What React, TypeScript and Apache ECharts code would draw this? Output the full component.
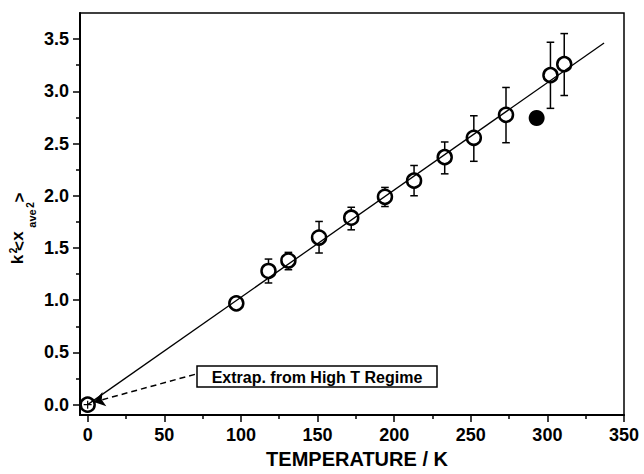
import React, { useEffect, useRef } from "react";
import * as echarts from "echarts";

// ---- data ----
const temps = [0, 97, 118, 131, 151, 172, 194, 213, 233, 252, 273, 302, 311];
const values = [0, 0.97, 1.28, 1.38, 1.6, 1.79, 1.99, 2.145, 2.37, 2.555, 2.775, 3.155, 3.26];
const errTemps = [118, 131, 151, 172, 194, 213, 233, 252, 273, 302, 311];
const errLow = [1.165, 1.292, 1.452, 1.674, 1.897, 2.0, 2.21, 2.33, 2.508, 2.837, 2.96];
const errHigh = [1.394, 1.458, 1.754, 1.89, 2.08, 2.29, 2.515, 2.766, 3.037, 3.47, 3.553];
const filledPoint = [293, 2.745];
const fitTemps = [0, 337];
const fitValues = [0, 3.463];
const originPoint = [0, 0];
const arrowFrom = [70, 0.29];
const arrowTo = [4, 0.025];
const xMajorTicks = [0, 50, 100, 150, 200, 250, 300, 350];
const xMinorTicks = [25, 75, 125, 175, 225, 275, 325];
const yMajorTicks = [0, 0.5, 1.0, 1.5, 2.0, 2.5, 3.0, 3.5];
const yMinorTicks = [0.25, 0.75, 1.25, 1.75, 2.25, 2.75, 3.25];
const annotationText = "Extrap. from High T Regime";

const FONT = '"Liberation Sans", Arial, sans-serif';

export default function App() {
  const ref = useRef<HTMLDivElement>(null);
  useEffect(() => {
    if (!ref.current) return;
    const chart = echarts.init(ref.current, null, { renderer: "svg" });
    const axisLine = { show: true, lineStyle: { color: "#000", width: 2 } };
    const labelStyle = { color: "#000", fontFamily: FONT, fontWeight: "bold" as const, fontSize: 18 };
    const CX = 19;
    const CY = 229;
    const yLabelPart = (text: string, sx: number, sy: number, size: number) => ({
      type: "text",
      x: CY - sy,
      y: sx - CX,
      style: {
        text,
        fill: "#000",
        fontFamily: FONT,
        fontWeight: "bold",
        fontSize: size,
        align: "center",
        verticalAlign: "middle",
      },
    });
    const minorAxisLabel = (vals: number[]) => ({
      show: true,
      customValues: vals,
      formatter: () => "",
    });
    chart.setOption({
      animation: false,
      backgroundColor: "#fff",
      grid: {
        left: 80,
        right: 20,
        top: 13,
        bottom: 58,
        show: true,
        borderColor: "#000",
        borderWidth: 1.5,
        containLabel: false,
      },
      xAxis: [
        {
          type: "value",
          min: -5,
          max: 350,
          axisLine: { ...axisLine, onZero: false },
          splitLine: { show: false },
          axisTick: { show: true, inside: false, length: 7, customValues: xMajorTicks, lineStyle: { color: "#000", width: 1.5 } },
          axisLabel: { ...labelStyle, margin: 11, customValues: xMajorTicks, formatter: (v: number) => String(v) },
          name: "TEMPERATURE / K",
          nameLocation: "middle",
          nameGap: 33,
          nameTextStyle: { color: "#000", fontFamily: FONT, fontWeight: "bold", fontSize: 20, padding: [0, 0, 0, 10] },
        },
        {
          type: "value",
          min: -5,
          max: 350,
          position: "bottom",
          axisLine: { show: false, onZero: false },
          splitLine: { show: false },
          axisTick: { show: true, inside: false, length: 4, customValues: xMinorTicks, lineStyle: { color: "#000", width: 1.5 } },
          axisLabel: minorAxisLabel(xMinorTicks),
        },
      ],
      yAxis: [
        {
          type: "value",
          min: -0.1,
          max: 3.75,
          axisLine: { ...axisLine, onZero: false },
          splitLine: { show: false },
          axisTick: { show: true, inside: false, length: 7, customValues: yMajorTicks, lineStyle: { color: "#000", width: 1.5 } },
          axisLabel: { ...labelStyle, margin: 11, customValues: yMajorTicks, formatter: (v: number) => v.toFixed(1) },
        },
        {
          type: "value",
          min: -0.1,
          max: 3.75,
          position: "left",
          axisLine: { show: false, onZero: false },
          splitLine: { show: false },
          axisTick: { show: true, inside: false, length: 4, customValues: yMinorTicks, lineStyle: { color: "#000", width: 1.5 } },
          axisLabel: minorAxisLabel(yMinorTicks),
        },
      ],
      series: [
        {
          type: "custom",
          name: "errors",
          z: 1,
          silent: true,
          data: errTemps.map((t, i) => [t, errLow[i], errHigh[i]]),
          renderItem: (params: any, api: any) => {
            const lo = api.coord([api.value(0), api.value(1)]);
            const hi = api.coord([api.value(0), api.value(2)]);
            const cap = 3.8;
            const st = { stroke: "#000", lineWidth: 1.5 };
            return {
              type: "group",
              children: [
                { type: "line", shape: { x1: lo[0], y1: lo[1], x2: hi[0], y2: hi[1] }, style: st },
                { type: "line", shape: { x1: lo[0] - cap, y1: lo[1], x2: lo[0] + cap, y2: lo[1] }, style: st },
                { type: "line", shape: { x1: hi[0] - cap, y1: hi[1], x2: hi[0] + cap, y2: hi[1] }, style: st },
              ],
            };
          },
        },
        {
          type: "scatter",
          name: "data",
          z: 2,
          symbol: "circle",
          symbolSize: 14,
          itemStyle: { color: "#fff", borderColor: "#000", borderWidth: 2.5, opacity: 1 },
          data: temps.map((t, i) => [t, values[i]]),
        },
        {
          type: "scatter",
          name: "filled",
          z: 2,
          symbol: "circle",
          symbolSize: 16,
          itemStyle: { color: "#000", opacity: 1 },
          data: [filledPoint],
        },
        {
          type: "scatter",
          name: "cross",
          z: 4,
          symbol: "path://M5,0 L5,10 M0,5 L10,5",
          symbolSize: 8,
          itemStyle: { color: "none", borderColor: "#000", borderWidth: 1.2, opacity: 1 },
          data: [originPoint],
        },
        {
          type: "line",
          name: "fit",
          z: 3,
          showSymbol: false,
          symbol: "none",
          lineStyle: { color: "#000", width: 1.3 },
          data: fitTemps.map((t, i) => [t, fitValues[i]]),
          markLine: {
            silent: true,
            symbol: ["none", "arrow"],
            symbolSize: 11,
            label: { show: false },
            lineStyle: { color: "#000", width: 1.5, type: [6, 4] },
            data: [[{ coord: arrowFrom }, { coord: arrowTo }]],
          },
        },
      ],
      graphic: [
        {
          type: "group",
          children: [
            {
              type: "rect",
              shape: { x: 197, y: 366, width: 240, height: 21 },
              style: { fill: "#fff", stroke: "#000", lineWidth: 1.5 },
            },
            {
              type: "text",
              x: 317,
              y: 377,
              style: {
                text: annotationText,
                fill: "#000",
                fontFamily: FONT,
                fontWeight: "bold",
                fontSize: 16,
                align: "center",
                verticalAlign: "middle",
              },
            },
          ],
        },
        {
          type: "group",
          x: CX,
          y: CY,
          rotation: Math.PI / 2,
          children: [
            yLabelPart("k", 17, 259.5, 17),
            yLabelPart("2", 13.5, 250.5, 10),
            yLabelPart("<", 19, 246, 17),
            yLabelPart("x", 17, 236, 17),
            yLabelPart("ave", 31.5, 218.5, 11),
            yLabelPart("2", 30.5, 205, 10),
            yLabelPart(">", 19, 197.5, 17),
          ],
        },
      ],
    });
    return () => chart.dispose();
  }, []);
  return <div ref={ref} style={{ width: 644, height: 474, position: "absolute", left: 0, top: 0 }} />;
}
